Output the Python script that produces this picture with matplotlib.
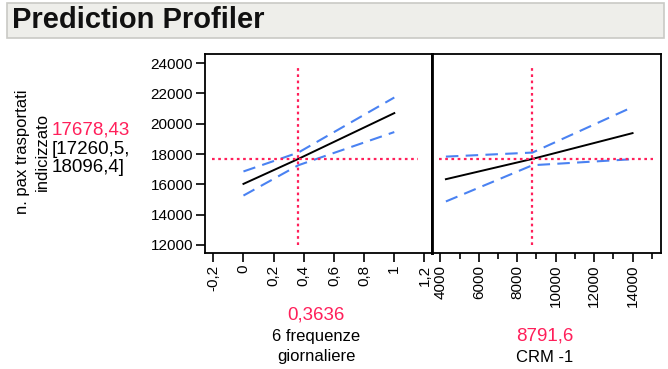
import matplotlib
matplotlib.use("Agg")
import matplotlib.pyplot as plt
import matplotlib.transforms as mtransforms
from matplotlib.patches import Rectangle

plt.rcParams['font.family'] = ['Liberation Sans', 'DejaVu Sans']

# ---- data ----
title = "Prediction Profiler"
y_label_lines = ["n. pax trasportati", "indicizzato"]
pred_value = "17678,43"
pred_ci_lines = ["[17260,5,", "18096,4]"]
pred_y = 17678.43

f1_name_lines = ["6 frequenze", "giornaliere"]
f1_value = 0.3636
f1_value_text = "0,3636"
f1_x = [0, 0.3636, 1]
f1_mean = [16030, 17678.43, 20700]
f1_upper = [16850, 18096.4, 21730]
f1_lower = [15260, 17260.5, 19450]
f1_ticks = [-0.2, 0, 0.2, 0.4, 0.6, 0.8, 1, 1.2]
f1_ticklabels = ["-0,2", "0", "0,2", "0,4", "0,6", "0,8", "1", "1,2"]

f2_name = "CRM -1"
f2_value = 8791.6
f2_value_text = "8791,6"
f2_x = [4290, 8791.6, 14000]
f2_mean = [16340, 17678.43, 19380]
f2_upper = [17830, 18096.4, 21100]
f2_lower = [14870, 17260.5, 17660]
f2_ticks = [4000, 6000, 8000, 10000, 12000, 14000]
f2_ticklabels = ["4000", "6000", "8000", "10000", "12000", "14000"]

y_ticks = [12000, 14000, 16000, 18000, 20000, 22000, 24000]

# ---- figure ----
W, H = 668, 369
fig = plt.figure(figsize=(W / 100, H / 100), dpi=100)

def ax_rect(l, r, t, b):
    return [l / W, (H - b) / H, (r - l) / W, (b - t) / H]

# title bar
fig.patches.append(Rectangle((7 / W, (H - 38) / H), 657 / W, 35 / H,
                             transform=fig.transFigure, facecolor='#eeeeea',
                             edgecolor='#c9c9c5', linewidth=1.2))
fig.text(12 / W, (H - 20.5) / H, title, fontsize=21, fontweight='bold',
         va='center', ha='left', color='#111111')

red = '#ff1f5a'
blue = '#4a82f2'

ax1 = fig.add_axes(ax_rect(205, 432, 54, 253))
ax2 = fig.add_axes(ax_rect(432, 661, 54, 253), sharey=ax1)

ylim = (11470, 24600)

def draw(ax, xs, mean, up, lo, xv):
    ax.plot(xs, mean, color='black', lw=1.4, zorder=3)
    ax.plot(xs, up, color=blue, lw=1.5, dashes=(6, 3.5), zorder=3)
    ax.plot(xs, lo, color=blue, lw=1.5, dashes=(6, 3.5), zorder=3)
    tx = mtransforms.blended_transform_factory(ax.transData, ax.transAxes)
    ax.plot([xv, xv], [0.04, 0.936], transform=tx, color=red, lw=1.6,
            dashes=(1.2, 1.6), zorder=4)

draw(ax1, f1_x, f1_mean, f1_upper, f1_lower, f1_value)
ty1 = mtransforms.blended_transform_factory(ax1.transAxes, ax1.transData)
ax1.plot([0.03, 0.94], [pred_y, pred_y], transform=ty1, color=red, lw=1.6,
         dashes=(1.2, 1.6), zorder=4)
draw(ax2, f2_x, f2_mean, f2_upper, f2_lower, f2_value)
ty2 = mtransforms.blended_transform_factory(ax2.transAxes, ax2.transData)
ax2.plot([0.032, 0.966], [pred_y, pred_y], transform=ty2, color=red, lw=1.6,
         dashes=(1.2, 1.6), zorder=4)

ax1.set_xlim(-0.255, 1.25)
ax2.set_xlim(3567, 15480)
ax1.set_ylim(*ylim)

ax1.set_yticks(y_ticks)
ax1.set_yticklabels([str(v) for v in y_ticks], fontsize=11)
ax1.set_xticks(f1_ticks)
ax1.set_xticklabels(f1_ticklabels, rotation=90, fontsize=11)
ax2.set_xticks(f2_ticks)
ax2.set_xticklabels(f2_ticklabels, rotation=90, fontsize=11)
ax2.set_xticks(list(range(5000, 15001, 2000)), minor=True)
ax2.tick_params(axis='y', left=False, labelleft=False)

for ax in (ax1, ax2):
    ax.tick_params(axis='both', which='major', direction='out', length=6.5,
                   width=1.2, pad=2)
    ax.tick_params(axis='x', which='minor', direction='out', length=4, width=1.2)
    for s in ax.spines.values():
        s.set_linewidth(1.3)
ax1.spines['right'].set_linewidth(2.0)
ax2.spines['left'].set_linewidth(2.0)

# left labels
fig.text(23 / W, (H - 152) / H, y_label_lines[0], rotation=90, fontsize=12,
         ha='center', va='center')
fig.text(42 / W, (H - 152) / H, y_label_lines[1], rotation=90, fontsize=12,
         ha='center', va='center')
fig.text(52 / W, (H - 130) / H, pred_value, fontsize=13.5, color=red,
         ha='left', va='center')
fig.text(52 / W, (H - 149) / H, pred_ci_lines[0], fontsize=13.5, color='black',
         ha='left', va='center')
fig.text(52 / W, (H - 168) / H, pred_ci_lines[1], fontsize=13.5, color='black',
         ha='left', va='center')

# bottom labels
fig.text(316 / W, (H - 315) / H, f1_value_text, fontsize=13.5, color=red,
         ha='center', va='center')
fig.text(316 / W, (H - 337) / H, f1_name_lines[0], fontsize=12, color='black',
         ha='center', va='center')
fig.text(316 / W, (H - 356) / H, f1_name_lines[1], fontsize=12, color='black',
         ha='center', va='center')
fig.text(545 / W, (H - 336) / H, f2_value_text, fontsize=13.5, color=red,
         ha='center', va='center')
fig.text(545 / W, (H - 357) / H, f2_name, fontsize=12, color='black',
         ha='center', va='center')

fig.savefig("out.png", dpi=100)
